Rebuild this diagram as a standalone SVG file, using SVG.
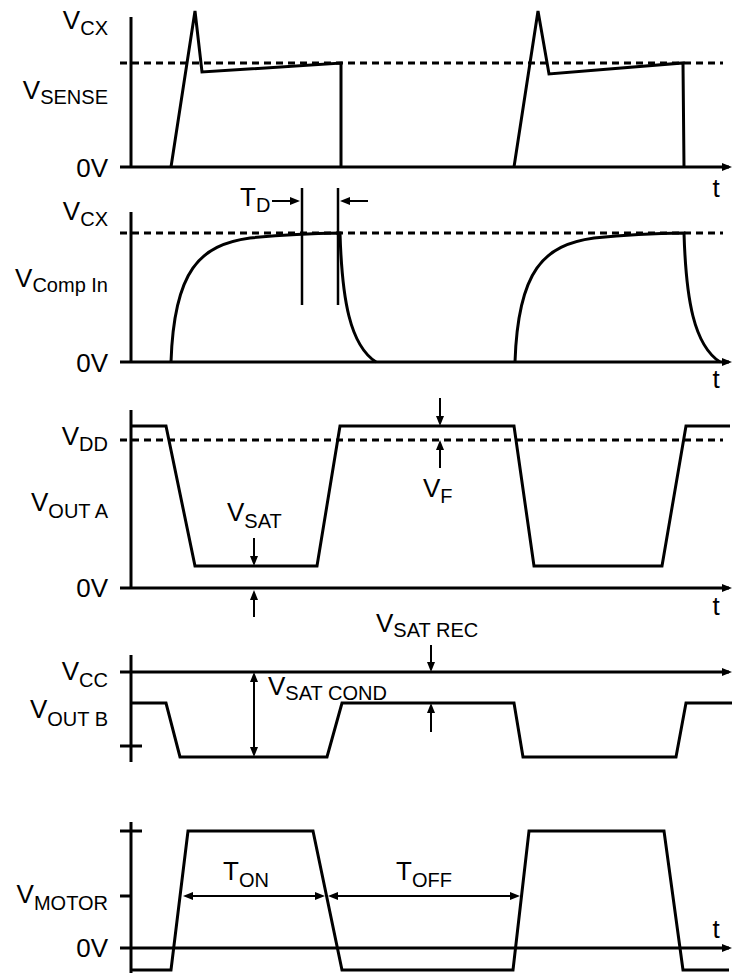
<svg xmlns="http://www.w3.org/2000/svg" width="732" height="973" viewBox="0 0 732 973">
<style>
.w{fill:none;stroke:#000;stroke-width:3;stroke-linejoin:miter}
.ax{fill:none;stroke:#000;stroke-width:3}
.dash{fill:none;stroke:#000;stroke-width:3;stroke-dasharray:7 5}
.arr{fill:none;stroke:#000;stroke-width:2}
.thin{fill:none;stroke:#000;stroke-width:2.5}
text{font-family:"Liberation Sans",Arial,Helvetica,sans-serif;font-size:26px;fill:#000}
.s{font-size:20px}
</style>
<defs>
<marker id="ah" viewBox="0 0 10 8" refX="7" refY="4" markerWidth="10" markerHeight="8" markerUnits="userSpaceOnUse" orient="auto-start-reverse">
<path d="M0,0 L10,4 L0,8 z" fill="#000"/>
</marker>
</defs>

<g id="panel-sense">
<path class="ax" d="M131,17 V167"/>
<path class="ax" d="M120,167 H729" marker-end="url(#ah)"/>
<path class="dash" d="M120,63 H723"/>
<path class="w" d="M171,167 L195,11 L202,72 L341,63 V167"/>
<path class="w" d="M514,167 L538,11 L549,74 L683,63 L684,167"/>
<text x="108" y="29" text-anchor="end">V<tspan class="s" dy="6">CX</tspan></text>
<text x="108" y="99" text-anchor="end">V<tspan class="s" dy="5">SENSE</tspan></text>
<text x="108" y="177" text-anchor="end">0V</text>
<text x="716" y="197" text-anchor="middle">t</text>
</g>

<g id="panel-comp">
<path class="ax" d="M131,212 V362"/>
<path class="ax" d="M120,362 H729" marker-end="url(#ah)"/>
<path class="dash" d="M120,233 H723"/>
<path id="cmp" class="w" d="M171,362 C174,270 200,245 250,238 C270,236 300,233.5 340,233 C342,300 350,345 376,362"/>
<path class="w" transform="translate(344,0)" d="M171,362 C174,270 200,245 250,238 C270,236 300,233.5 340,233 C342,300 350,345 376,362"/>
<path class="thin" d="M302,188 V305"/>
<path class="thin" d="M338,188 V305"/>
<path class="arr" d="M272,201 H297" marker-end="url(#ah)"/>
<path class="arr" d="M368,201 H343" marker-end="url(#ah)"/>
<text x="240" y="206">T<tspan class="s" dy="6">D</tspan></text>
<text x="108" y="220" text-anchor="end">V<tspan class="s" dy="6">CX</tspan></text>
<text x="108" y="287" text-anchor="end">V<tspan class="s" dy="5">Comp In</tspan></text>
<text x="108" y="372" text-anchor="end">0V</text>
<text x="716" y="388" text-anchor="middle">t</text>
</g>

<g id="panel-outa">
<path class="ax" d="M131,410 V588"/>
<path class="ax" d="M120,588 H729" marker-end="url(#ah)"/>
<path class="dash" d="M120,440 H723"/>
<path class="w" d="M131,426 H166 L195,566 H317 L340,426 H514 L534,566 H662 L686,426 H730"/>
<path class="arr" d="M254,538 V563" marker-end="url(#ah)"/>
<path class="arr" d="M254,617 V593" marker-end="url(#ah)"/>
<path class="arr" d="M440,398 V423" marker-end="url(#ah)"/>
<path class="arr" d="M440,468 V443" marker-end="url(#ah)"/>
<text x="108" y="445" text-anchor="end">V<tspan class="s" dy="6">DD</tspan></text>
<text x="108" y="511" text-anchor="end">V<tspan class="s" dy="7">OUT A</tspan></text>
<text x="108" y="597" text-anchor="end">0V</text>
<text x="227" y="521">V<tspan class="s" dy="7">SAT</tspan></text>
<text x="423" y="497">V<tspan class="s" dy="6">F</tspan></text>
<text x="716" y="615" text-anchor="middle">t</text>
</g>

<g id="panel-outb">
<path class="ax" d="M131,655 V762"/>
<path class="ax" d="M120,672 H729" marker-end="url(#ah)"/>
<path class="ax" d="M120,746 H142"/>
<path class="w" d="M131,703 H166 L180,757 H327 L342,703 H514 L523,757 H676 L686,703 H732"/>
<path class="arr" d="M254,675 V754" marker-start="url(#ah)" marker-end="url(#ah)"/>
<path class="arr" d="M431,645 V669" marker-end="url(#ah)"/>
<path class="arr" d="M431,732 V706" marker-end="url(#ah)"/>
<text x="108" y="680" text-anchor="end">V<tspan class="s" dy="7">CC</tspan></text>
<text x="108" y="718" text-anchor="end">V<tspan class="s" dy="8">OUT B</tspan></text>
<text x="268" y="695">V<tspan class="s" dy="5">SAT COND</tspan></text>
<text x="376" y="632">V<tspan class="s" dy="5">SAT REC</tspan></text>
</g>

<g id="panel-motor">
<path class="ax" d="M131,822 V973"/>
<path class="ax" d="M120,831 H142"/>
<path class="ax" d="M120,896 H131"/>
<path class="ax" d="M120,948 H729" marker-end="url(#ah)"/>
<path class="w" d="M131,970 H171 L188,831 H313 L342,970 H513 L529,831 H664 L683,970 H729"/>
<path class="arr" d="M186,896 H322" marker-start="url(#ah)" marker-end="url(#ah)"/>
<path class="arr" d="M331,896 H517" marker-start="url(#ah)" marker-end="url(#ah)"/>
<text x="223" y="880">T<tspan class="s" dy="7">ON</tspan></text>
<text x="396" y="880">T<tspan class="s" dy="7">OFF</tspan></text>
<text x="108" y="903" text-anchor="end">V<tspan class="s" dy="7">MOTOR</tspan></text>
<text x="108" y="957" text-anchor="end">0V</text>
<text x="716" y="938" text-anchor="middle">t</text>
</g>
</svg>
